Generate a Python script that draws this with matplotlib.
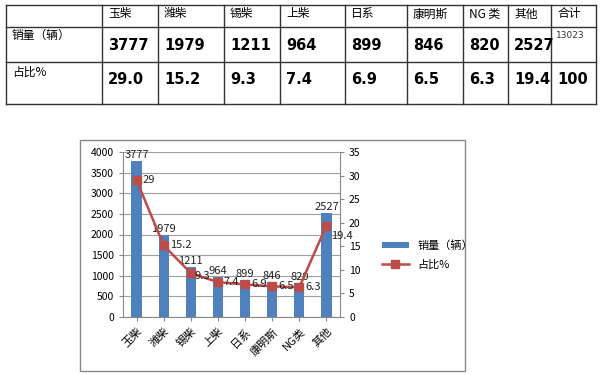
import matplotlib.pyplot as plt
from matplotlib.patches import Rectangle

plt.rcParams['font.family'] = ['Noto Sans CJK SC', 'DejaVu Sans']

brands = ['玉柴', '潍柴', '锡柴', '上柴', '日系', '康明斯', 'NG类', '其他']
table_heads = ['玉柴', '潍柴', '锡柴', '上柴', '日系', '康明斯', 'NG 类', '其他', '合计']
sales = [3777, 1979, 1211, 964, 899, 846, 820, 2527]
share = [29, 15.2, 9.3, 7.4, 6.9, 6.5, 6.3, 19.4]
share_text = ['29.0', '15.2', '9.3', '7.4', '6.9', '6.5', '6.3', '19.4', '100']
total = 13023

bar_color = '#4F81BD'
line_color = '#BE4B48'

fig = plt.figure(figsize=(6, 3.75), dpi=100)

# overlay in pixel coords for table + chart frame
ov = fig.add_axes([0, 0, 1, 1])
ov.set_xlim(0, 600)
ov.set_ylim(375, 0)
ov.axis('off')

# table grid
col_x = [6, 102, 158, 224, 280, 345, 407, 463, 508, 551, 596]
row_y = [5, 27, 62, 104]
for y in row_y:
    ov.plot([col_x[0], col_x[-1]], [y, y], color='#333333', lw=1)
for x in col_x:
    ov.plot([x, x], [row_y[0], row_y[-1]], color='#333333', lw=1)

ov.text(12, 35, '销量（辆）', fontsize=8.5, va='center', ha='left')
ov.text(12, 72, '占比%', fontsize=8.5, va='center', ha='left')
for i, head in enumerate(table_heads):
    x0 = col_x[i + 1] + 6
    ov.text(x0, 14, head, fontsize=8.5, va='center', ha='left')
    if i < len(sales):
        ov.text(x0, 46, str(sales[i]), fontsize=10.5, fontweight='bold',
                va='center', ha='left', family='DejaVu Sans')
    else:
        ov.text(x0 - 1, 36, str(total), fontsize=6.5, va='center', ha='left',
                family='DejaVu Sans', color='#333333')
    ov.text(x0, 80, share_text[i], fontsize=10.5, fontweight='bold',
            va='center', ha='left', family='DejaVu Sans')

# chart frame
ov.add_patch(Rectangle((80, 140), 385, 231, fill=False, ec='#888888', lw=1))

# chart
ax = fig.add_axes([123 / 600, 1 - 317 / 375, (340 - 123) / 600, (317 - 152) / 375])
xs = list(range(len(brands)))
bars = ax.bar(xs, sales, width=0.38, color=bar_color, label='销量（辆）', zorder=2)
ax.set_ylim(0, 4000)
ax.set_yticks(range(0, 4001, 500))
ax.set_xlim(-0.5, len(brands) - 0.5)
ax.grid(axis='y', color='#A0A0A0', lw=0.8, zorder=0)
ax.set_xticks(xs)
ax.set_xticklabels(brands, rotation=45, ha='right', rotation_mode='anchor', fontsize=8)
ax.tick_params(axis='y', labelsize=7.5, length=3, color='#888888')
ax.tick_params(axis='x', length=3, color='#888888')
for s in ['top', 'right']:
    ax.spines[s].set_visible(False)
for s in ['left', 'bottom']:
    ax.spines[s].set_color('#888888')
for x, v in zip(xs, sales):
    ax.text(x, v + 30, str(v), ha='center', va='bottom', fontsize=8, color='#222222')

ax2 = ax.twinx()
ax2.plot(xs, share, color=line_color, lw=1.8, marker='s', markersize=6,
         label='占比%', zorder=3)
ax2.set_ylim(0, 35)
ax2.set_yticks(range(0, 36, 5))
ax2.tick_params(axis='y', labelsize=7.5, length=3, color='#888888')
for s in ['top', 'left', 'bottom']:
    ax2.spines[s].set_visible(False)
ax2.spines['right'].set_color('#888888')
# nudge a couple of labels so they don't collide with neighbours
dx = [0.22, 0.22, 0.12, 0.22, 0.22, 0.22, 0.22, 0.18]
dy = [0, 0, -0.6, 0, 0, 0, 0, -2.2]
for x, v, ox, oy in zip(xs, share, dx, dy):
    ax2.text(x + ox, v + oy, f'{v:g}', ha='left', va='center', fontsize=8, color='#222222')

h1, l1 = ax.get_legend_handles_labels()
h2, l2 = ax2.get_legend_handles_labels()
fig.legend(h1 + h2, l1 + l2, loc='center left', bbox_to_anchor=(372 / 600, 1 - 255 / 375),
           frameon=False, fontsize=8, handlelength=2.4, handleheight=0.5,
           labelspacing=0.8)

fig.savefig('out.png', dpi=100)
